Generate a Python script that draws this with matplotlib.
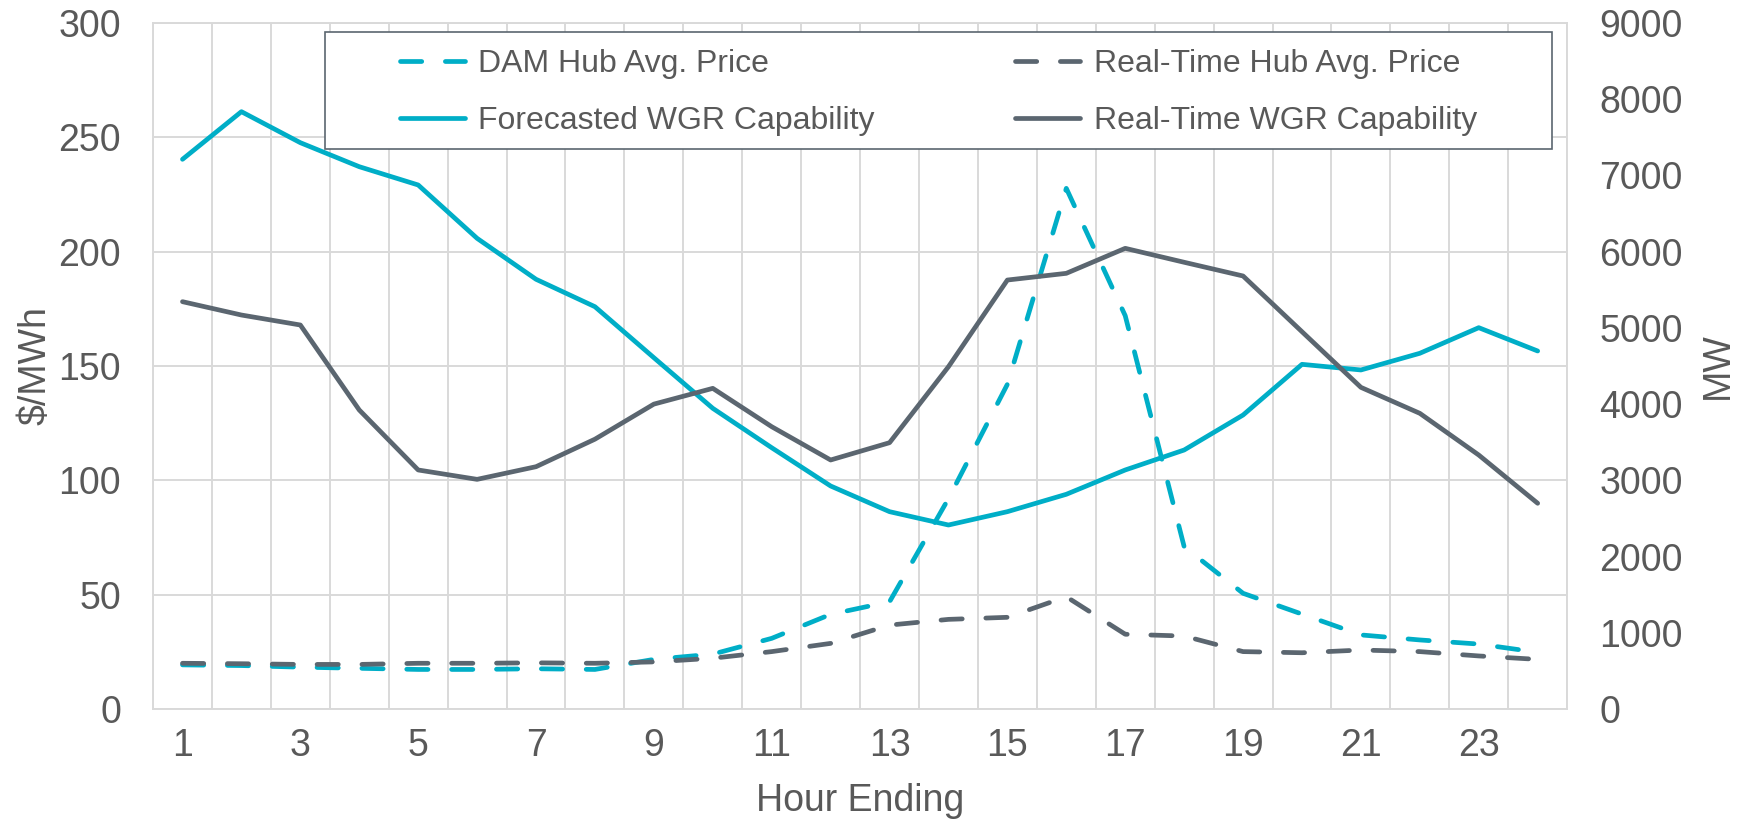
import numpy as np
import matplotlib
matplotlib.use("Agg")
import matplotlib.pyplot as plt
from matplotlib.patches import Rectangle

plt.rcParams["font.family"] = ["Liberation Sans", "DejaVu Sans"]

# hourly data
hours = np.arange(1, 25)
dam_price = [19.3, 19.0, 18.3, 17.8, 17.3, 17.3, 17.6, 17.3, 21.7, 24.0, 30.9, 41.4,
             46.9, 92.0, 142.0, 227.7, 172.0, 71.0, 50.6, 41.5, 32.4, 30.2, 28.4, 24.8]
rt_price = [20.0, 19.8, 19.5, 19.5, 20.0, 20.0, 20.2, 20.0, 20.6, 22.2, 25.1, 28.7,
            36.7, 39.2, 40.1, 49.1, 32.7, 31.9, 25.1, 24.6, 25.8, 25.1, 23.2, 21.7]
fcst_wgr = [7212, 7837, 7430, 7115, 6875, 6175, 5638, 5278, 4609, 3945, 3428, 2926,
            2589, 2414, 2589, 2817, 3136, 3398, 3857, 4522, 4448, 4667, 5003, 4697]
rt_wgr = [5344, 5169, 5038, 3923, 3136, 3013, 3179, 3540, 4000, 4207, 3704, 3267,
          3494, 4491, 5628, 5716, 6044, 5861, 5681, 4950, 4220, 3879, 3332, 2699]

price_ticks = np.arange(0, 301, 50)
mw_ticks = np.arange(0, 9001, 1000)
hour_ticks = np.arange(1, 24, 2)

CYAN = "#00AEC7"
SLATE = "#5B6670"
TEXT = "#595959"
GRID = "#D9D9D9"

fig = plt.figure(figsize=(17.43, 8.25), dpi=100)
ax = fig.add_axes([0.0878, 0.1406, 0.8113, 0.8315])
ax2 = ax.twinx()

lw = 3.4
dash = (4.5, 5)
l_dam, = ax.plot(hours, dam_price, color=CYAN, lw=lw, dashes=dash,
                 dash_capstyle="round", label="DAM Hub Avg. Price")
l_rt, = ax.plot(hours, rt_price, color=SLATE, lw=lw, dashes=dash,
                dash_capstyle="round", label="Real-Time Hub Avg. Price")
l_fc, = ax2.plot(hours, fcst_wgr, color=CYAN, lw=lw, solid_capstyle="round",
                 label="Forecasted WGR Capability")
l_rw, = ax2.plot(hours, rt_wgr, color=SLATE, lw=lw, solid_capstyle="round",
                 label="Real-Time WGR Capability")

ax.set_xlim(0.5, 24.5)
ax.set_ylim(0, 300)
ax2.set_ylim(0, 9000)
ax.set_xticks(hour_ticks)
ax.set_xticks(np.arange(0.5, 25, 1), minor=True)
ax.set_yticks(price_ticks)
ax2.set_yticks(mw_ticks)

ax.grid(axis="y", which="major", color=GRID, lw=1.4)
ax.grid(axis="x", which="minor", color=GRID, lw=1.4)
ax.set_axisbelow(True)

ax.tick_params(axis="both", which="both", length=0, labelsize=27, labelcolor=TEXT)
ax.tick_params(axis="x", pad=14)
ax.tick_params(axis="y", pad=23)
ax2.tick_params(axis="y", length=0, labelsize=27, labelcolor=TEXT, pad=23)

for s in ax.spines.values():
    s.set_color(GRID)
    s.set_linewidth(1.4)
for s in ax2.spines.values():
    s.set_visible(False)

ax.set_xlabel("Hour Ending", fontsize=27, color=TEXT)
ax.set_ylabel("$/MWh", fontsize=27, color=TEXT)
ax2.set_ylabel("MW", fontsize=27, color=TEXT)
ax.xaxis.set_label_coords(0.5, -0.108)
ax.yaxis.set_label_coords(-0.0703, 0.5)
ax2.yaxis.set_label_coords(1.094, 0.5)

# legend box drawn by hand so padding matches the original
frame = Rectangle((0.1216, 0.816), 0.868, 0.171, transform=ax2.transAxes,
                  facecolor="white", edgecolor=SLATE, lw=1.2, zorder=4)
ax2.add_patch(frame)
leg = ax2.legend(handles=[l_dam, l_fc, l_rt, l_rw], ncol=2, loc="upper left",
                 bbox_to_anchor=(0.1746, 0.962), frameon=False, borderpad=0,
                 borderaxespad=0, fontsize=23, handlelength=2.04,
                 handletextpad=0.41, columnspacing=4.4, labelspacing=0.85,
                 labelcolor=TEXT)
leg.set_zorder(5)

fig.savefig("out.png", dpi=100)
